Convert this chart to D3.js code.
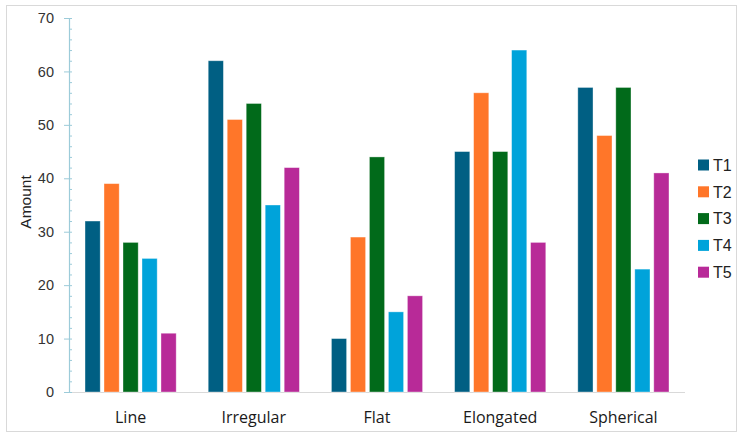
<!DOCTYPE html>
<html><head><meta charset="utf-8">
<script src="https://cdn.jsdelivr.net/npm/d3@7"></script>
<style>html,body{margin:0;padding:0;background:#fff}</style>
</head><body>
<svg id="c" width="744" height="440"></svg>
<script>
const categories = ["Line", "Irregular", "Flat", "Elongated", "Spherical"];
const seriesNames = ["T1", "T2", "T3", "T4", "T5"];
const T1 = [32, 62, 10, 45, 57];
const T2 = [39, 51, 29, 56, 48];
const T3 = [28, 54, 44, 45, 57];
const T4 = [25, 35, 15, 64, 23];
const T5 = [11, 42, 18, 28, 41];
const colors = ["#005f83", "#ff7629", "#016a1a", "#00a3da", "#b82a98"];
const yTicks = [0, 10, 20, 30, 40, 50, 60, 70];

const series = [T1, T2, T3, T4, T5];
const svg = d3.select("#c");
const pLeft = 69, pRight = 685, pTop = 18, pBottom = 392;

svg.append("rect").attr("x", 6.5).attr("y", 5.5).attr("width", 730).attr("height", 426)
  .attr("fill", "#fff").attr("stroke", "#d9d9d9");

const x0 = d3.scaleBand().domain(categories).range([pLeft, pRight]).paddingInner(0.26).paddingOuter(0.13);
const x1 = d3.scaleBand().domain(seriesNames).range([0, x0.bandwidth()]).paddingInner(0.2);
const y = d3.scaleLinear().domain([0, 70]).range([pBottom, pTop]);

// baseline
svg.append("line").attr("x1", pLeft).attr("x2", pRight).attr("y1", pBottom + 0.5).attr("y2", pBottom + 0.5)
  .attr("stroke", "#d9d9d9");

// bars
const g = svg.append("g");
categories.forEach((c, i) => {
  seriesNames.forEach((s, j) => {
    g.append("rect")
      .attr("x", x0(c) + x1(s))
      .attr("y", y(series[j][i]))
      .attr("width", x1.bandwidth())
      .attr("height", y(0) - y(series[j][i]))
      .attr("fill", colors[j])
      .attr("stroke", "#fff").attr("stroke-opacity", 0.45).attr("stroke-width", 0.8);
  });
});

// y axis
const ax = svg.append("g");
ax.append("line").attr("x1", pLeft + 0.5).attr("x2", pLeft + 0.5).attr("y1", pTop).attr("y2", pBottom)
  .attr("stroke", "#9ccbd9").attr("stroke-width", 1.2);
const minor = d3.range(0, 71, 2).filter(v => v % 10 !== 0);
ax.selectAll("line.minor").data(minor).join("line").attr("class", "minor")
  .attr("x1", pLeft).attr("x2", pLeft + 3).attr("y1", d => y(d) + 0.5).attr("y2", d => y(d) + 0.5)
  .attr("stroke", "#9ccbd9");
ax.selectAll("line.major").data(yTicks).join("line").attr("class", "major")
  .attr("x1", pLeft - 5).attr("x2", pLeft + 3).attr("y1", d => y(d) + 0.5).attr("y2", d => y(d) + 0.5)
  .attr("stroke", "#9ccbd9");
ax.selectAll("text").data(yTicks).join("text")
  .attr("x", 54).attr("y", d => y(d)).attr("dy", "0.35em")
  .attr("text-anchor", "end").attr("font-family", "Liberation Sans, Arial, sans-serif")
  .attr("font-size", 14.5).attr("fill", "#333").text(d => d);

svg.append("text").attr("transform", "translate(31,202) rotate(-90)")
  .attr("text-anchor", "middle").attr("font-family", "Liberation Sans, Arial, sans-serif")
  .attr("font-size", 15.5).attr("fill", "#222").text("Amount");

// x labels
svg.selectAll("text.xl").data(categories).join("text").attr("class", "xl")
  .attr("x", d => x0(d) + x0.bandwidth() / 2).attr("y", 423)
  .attr("text-anchor", "middle").attr("font-family", "Open Sans, Noto Sans, sans-serif")
  .attr("font-size", 16).attr("fill", "#1a1a1a").text(d => d);

// legend
const lg = svg.append("g");
seriesNames.forEach((s, j) => {
  const cy = 165 + j * 26.8;
  lg.append("rect").attr("x", 698).attr("y", cy - 5.5).attr("width", 11).attr("height", 11).attr("fill", colors[j]);
  lg.append("text").attr("x", 713).attr("y", cy).attr("dy", "0.36em")
    .attr("font-family", "Liberation Sans, Arial, sans-serif").attr("font-size", 16).attr("fill", "#222").text(s);
});
</script>
</body></html>
